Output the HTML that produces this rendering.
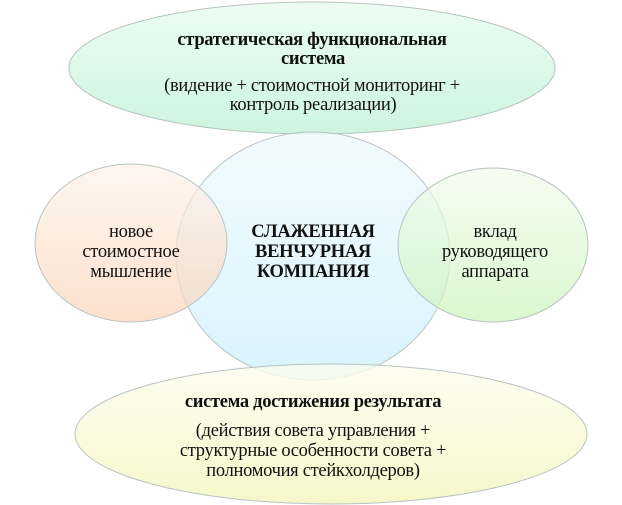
<!DOCTYPE html>
<html><head><meta charset="utf-8"><style>
body{margin:0;background:#fff;}
svg{display:block;}
text{font-family:"Liberation Serif","Times New Roman","DejaVu Serif",serif;font-size:18.5px;fill:#111;text-anchor:middle;letter-spacing:-0.3px;}
.b{font-weight:bold;}
</style></head><body>
<svg width="622" height="505" viewBox="0 0 622 505">
<defs>
<linearGradient id="gt" x1="0" y1="0" x2="0" y2="1"><stop offset="0" stop-color="#eafcf2"/><stop offset="1" stop-color="#c4f3da"/></linearGradient>
<linearGradient id="gc" x1="0" y1="0" x2="0" y2="1"><stop offset="0" stop-color="#eefaff"/><stop offset="1" stop-color="#cdeffc"/></linearGradient>
<linearGradient id="gl" x1="0" y1="0" x2="0" y2="1"><stop offset="0" stop-color="#fdf3ea"/><stop offset="1" stop-color="#fbd3b8"/></linearGradient>
<linearGradient id="gr" x1="0" y1="0" x2="0" y2="1"><stop offset="0" stop-color="#f1fcec"/><stop offset="1" stop-color="#cdf4bb"/></linearGradient>
<linearGradient id="gb" x1="0" y1="0" x2="0" y2="1"><stop offset="0" stop-color="#fdfdef"/><stop offset="1" stop-color="#f3f6bd"/></linearGradient>
</defs>
<g stroke="#b8c4c0" stroke-width="1">
<ellipse cx="312" cy="68" rx="243" ry="66" fill="url(#gt)" fill-opacity="0.85"/>
<ellipse cx="313" cy="256" rx="137" ry="124" fill="url(#gc)" fill-opacity="0.75"/>
<ellipse cx="131" cy="243" rx="96" ry="79" fill="url(#gl)" fill-opacity="0.7"/>
<ellipse cx="493" cy="245" rx="95" ry="77" fill="url(#gr)" fill-opacity="0.7"/>
<ellipse cx="331" cy="434" rx="256" ry="70" fill="url(#gb)" fill-opacity="0.8"/>
</g>
<text class="b" x="312" y="45">стратегическая функциональная</text>
<text class="b" x="313" y="64">система</text>
<text x="312" y="91">(видение + стоимостной мониторинг +</text>
<text x="313" y="110">контроль реализации)</text>
<text x="131" y="237">новое</text>
<text x="131" y="257">стоимостное</text>
<text x="131" y="277">мышление</text>
<text class="b" x="313" y="237">СЛАЖЕННАЯ</text>
<text class="b" x="313" y="257">ВЕНЧУРНАЯ</text>
<text class="b" x="313" y="277">КОМПАНИЯ</text>
<text x="495" y="237">вклад</text>
<text x="495" y="257">руководящего</text>
<text x="495" y="277">аппарата</text>
<text class="b" x="313" y="407">система достижения результата</text>
<text x="313" y="436">(действия совета управления +</text>
<text x="313" y="456">структурные особенности совета +</text>
<text x="313" y="476">полномочия стейкхолдеров)</text>
</svg>
</body></html>
